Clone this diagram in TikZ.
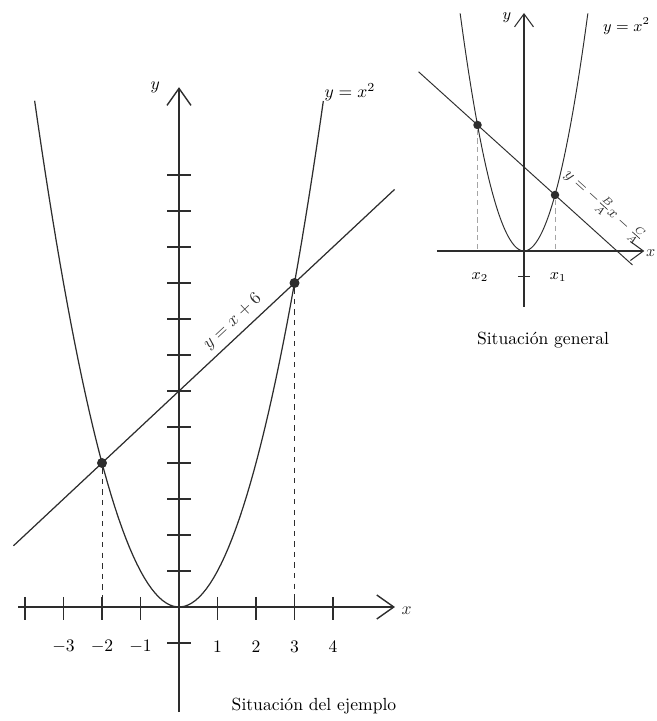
\documentclass[tikz,border=0pt]{standalone}
\usepackage{amsmath}
\usepackage{xcolor}
\usepackage{tikz}
\usetikzlibrary{arrows.meta}
\definecolor{InkGray}{RGB}{45,45,45}
\definecolor{GuideGray}{RGB}{165,165,165}

\begin{document}
\begin{tikzpicture}[
    bigaxis/.style={InkGray, line width=0.8pt, -{Straight Barb[length=0.34cm, width=0.48cm, line width=0.8pt]}},
    smallaxis/.style={InkGray, line width=0.6pt, -{Straight Barb[length=0.26cm, width=0.38cm, line width=0.6pt]}},
    curve/.style={InkGray, line width=0.7pt},
    thincurve/.style={InkGray, line width=0.55pt},
    tickmark/.style={InkGray, line width=0.6pt},
    guide/.style={InkGray, dashed, line width=0.5pt},
    faintguide/.style={GuideGray, densely dashed, line width=0.5pt},
    meetdot/.style={circle, fill=InkGray, inner sep=0pt, minimum size=0.2cm},
    smalldot/.style={circle, fill=InkGray, inner sep=0pt, minimum size=0.17cm}]
  \useasboundingbox (0,0) rectangle (13.12,14.42);

  % example: y = x^2 and y = x + 6
  \begin{scope}[shift={(3.58,2.28)}, x=0.77cm, y=0.72cm]
    \draw[bigaxis] (-4.18,0) -- (5.61,0) node[right, yshift=-2pt] (xlabA) {$x$};
    \draw[bigaxis] (0,-2.92) -- (0,14.44);
    \node (ylabA) at (-0.62,14.42) {$y$};
    \foreach \k in {-4,...,-1,1,2,3,4}
      \draw[tickmark] (\k,0.28) -- (\k,-0.36);
    \foreach \k in {-3,-2,-1,1,2,3,4}
      \node (num\k) at (\k,-1.1) {$\k$};
    \foreach \k in {-1,1,2,...,12}
      \draw[tickmark] (-0.3,\k) -- (0.3,\k);
    \draw[curve, domain=-3.75:3.75, samples=80] plot (\x,{\x*\x});
    \node[right] (parA) at (3.62,14.3) {$y=x^2$};
    \draw[curve] (-4.3,1.7) -- (5.6,11.6)
      node[pos=0.6, sloped, above] (lineA) {$y=x+6$};
    \node[meetdot] (pA) at (-2,4) {};
    \node[meetdot] (pB) at (3,9) {};
    \coordinate (footA) at (-2,0);
    \coordinate (footB) at (3,0);
    \draw[guide] (pA) -- (footA);
    \draw[guide] (pB) -- (footB);
  \end{scope}

  % general case: y = x^2 and Ax + By + C = 0
  \begin{scope}[shift={(10.48,9.40)}, x=0.62cm, y=1.12cm]
    \draw[smallaxis] (-2.81,0) -- (3.88,0) node[right, inner sep=0.8pt, yshift=-1pt] (xlabB) {\small $x$};
    \draw[smallaxis] (0,-1.0) -- (0,4.25);
    \node (ylabB) at (-0.55,4.16) {\small $y$};
    \draw[tickmark] (-0.2,-0.45) -- (0.2,-0.45);
    \draw[thincurve, domain=-2.06:2.06, samples=60] plot (\x,{\x*\x});
    \node[right] (parB) at (2.35,4.02) {\small $y=x^2$};
    \draw[thincurve] (-3.4,3.2) -- (3.5,-0.25)
      node[pos=0.79, sloped, above=5pt] (lineB) {\small $y=-\frac{B}{A}x-\frac{C}{A}$};
    \node[smalldot] (qA) at (-1.5,2.25) {};
    \node[smalldot] (qB) at (1,1) {};
    \coordinate (footC) at (-1.5,0);
    \coordinate (footD) at (1,0);
    \draw[faintguide] (qA) -- (footC);
    \draw[faintguide] (qB) -- (footD);
    \node (rootB) at (-1.42,-0.46) {\small $x_2$};
    \node (rootA) at (1.1,-0.46) {\small $x_1$};
  \end{scope}

  \node (capA) at (6.28,0.3) {Situación del ejemplo};
  \node (capB) at (10.86,7.62) {Situación general};
\end{tikzpicture}
\end{document}
